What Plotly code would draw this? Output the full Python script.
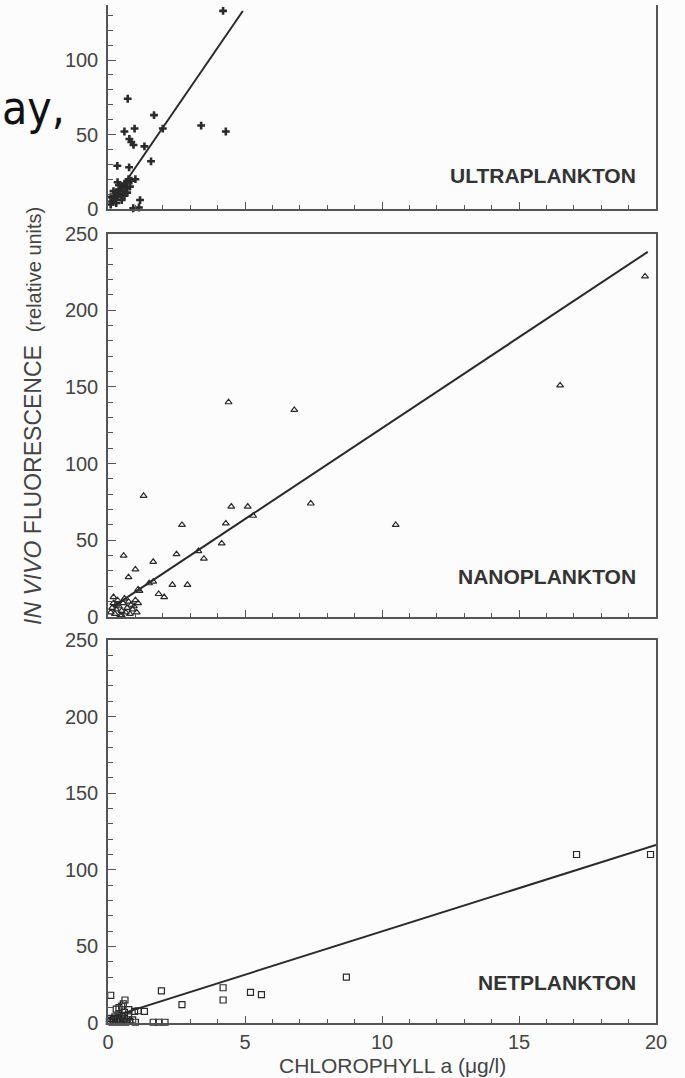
import plotly.graph_objects as go

# ---------------- data ----------------
# ULTRAPLANKTON (chlorophyll a, fluorescence)
ultra_x = [4.2, 0.72, 1.68, 0.97, 0.6, 3.4, 4.3, 2.0, 0.78, 0.85, 0.93, 1.33, 1.57,
           0.34, 0.77, 1.0, 1.17, 1.13, 0.92,
           0.1, 0.15, 0.2, 0.25, 0.3, 0.35, 0.4, 0.45, 0.5, 0.55, 0.6, 0.65, 0.7,
           0.3, 0.5, 0.2, 0.4, 0.75, 0.85, 0.6, 0.1, 0.35, 0.8, 0.7]
ultra_y = [133, 74, 63, 54, 52, 56, 52, 54, 47, 45, 43, 42, 32,
           29, 28, 20, 6, 1, 0.5,
           3, 5, 7, 9, 11, 8, 13, 10, 15, 12, 17, 14, 18,
           4, 6, 12, 16, 20, 19, 9, 8, 18, 15, 11]

# NANOPLANKTON
nano_x = [19.6, 16.5, 4.4, 6.8, 1.3, 4.5, 5.1, 7.4, 10.5, 2.7, 4.3, 4.15, 5.3,
          3.5, 2.5, 3.3, 0.57, 1.65, 1.0, 0.75, 1.65, 1.5, 1.85, 2.05, 2.35, 2.9,
          1.15, 1.1,
          0.1, 0.15, 0.2, 0.25, 0.3, 0.35, 0.4, 0.45, 0.5, 0.55, 0.6, 0.65, 0.7,
          0.75, 0.8, 0.85, 0.9, 1.0, 1.05, 0.2, 0.5, 0.3, 0.95, 1.1]
nano_y = [222, 151, 140, 135, 79, 72, 72, 74, 60, 60, 61, 48, 66,
          38, 41, 43, 40, 36, 31, 26, 23, 22, 15, 13, 21, 21,
          17, 18,
          3, 6, 9, 2, 5, 11, 7, 1, 4, 9, 12, 3, 6,
          10, 2, 8, 5, 11, 3, 13, 1, 8, 7, 9]

# NETPLANKTON
net_x = [17.1, 19.8, 8.7, 5.2, 5.6, 4.2, 4.2, 1.95, 2.7, 0.1, 0.62, 0.4, 0.76,
         0.97, 1.33, 1.65, 1.85, 2.08, 0.56, 1.1,
         0.05, 0.1, 0.15, 0.2, 0.25, 0.3, 0.35, 0.4, 0.45, 0.5, 0.55, 0.6, 0.65,
         0.7, 0.75, 0.8, 0.9, 1.0, 0.4, 0.6, 0.3, 0.5]
net_y = [110, 110, 30, 20, 18.5, 15, 23, 21, 12, 18, 15, 10, 8.7,
         7.6, 7.6, 0.5, 0.5, 0.5, 12.5, 8,
         1, 3, 0.5, 2, 4, 1, 3, 0.5, 2, 5, 1, 3, 0.5,
         2, 4, 1, 2, 0.5, 6, 7, 9, 11]

# fitted regression lines: [intercept, slope] and x extent
ultra_fit = [1.0, 26.8]
ultra_fit_x = [0.05, 4.92]
nano_fit = [4.6, 11.85]
nano_fit_x = [0.2, 19.7]
net_fit = [3.3, 5.65]
net_fit_x = [0.0, 20.0]

x_ticks = [0, 5, 10, 15, 20]
y_ticks = [0, 50, 100, 150, 200, 250]

# ---------------- layout geometry ----------------
W, H = 685, 1078
ML, MR, MT, MB = 108, 29, 0, 55
PW = W - ML - MR
PH = H - MT - MB


def py(p):  # pixel row -> paper y
    return (H - MB - p) / PH


def px(p):  # pixel column -> paper x
    return (p - ML) / PW


INK = "#2a2a2a"
AXC = "#555555"
FONT = "Liberation Sans, Arial, Helvetica, sans-serif"

fig = go.Figure()


def fit_y(fit, xs):
    return [fit[0] + fit[1] * v for v in xs]


panels = [
    ("x", "y", net_x, net_y, net_fit, net_fit_x, "square-open"),
    ("x2", "y2", nano_x, nano_y, nano_fit, nano_fit_x, "triangle-up-open"),
    ("x3", "y3", ultra_x, ultra_y, ultra_fit, ultra_fit_x, "cross"),
]
for xa, ya, xs, ys, fit, fx, sym in panels:
    fig.add_trace(go.Scatter(
        x=fx, y=fit_y(fit, fx), mode="lines", xaxis=xa, yaxis=ya,
        line=dict(color=INK, width=2), showlegend=False, hoverinfo="skip"))
    if sym == "cross":
        mk = dict(symbol=sym, size=6.5, color=INK, line=dict(width=0))
    else:
        mk = dict(symbol=sym, size=6, color=INK, line=dict(width=1.2, color=INK))
    fig.add_trace(go.Scatter(
        x=xs, y=ys, mode="markers", xaxis=xa, yaxis=ya, marker=mk,
        showlegend=False, cliponaxis=False))

tickfont = dict(family=FONT, size=20, color="#444444")


def xaxis(anchor, labels, top_line=True):
    return dict(
        anchor=anchor, domain=[0, 1], range=[0, 20], automargin=False,
        showgrid=False, zeroline=False,
        showline=True, linecolor=AXC, linewidth=1.5,
        mirror=top_line,
        ticks="inside", ticklen=7, tickwidth=1.2, tickcolor=AXC,
        tickvals=x_ticks, ticktext=[str(v) for v in x_ticks],
        showticklabels=labels, tickfont=tickfont,
        minor=dict(dtick=1, ticks="inside", ticklen=4, tickwidth=1.2, tickcolor=AXC),
    )


def yaxis(anchor, dom, rng):
    return dict(
        anchor=anchor, domain=dom, range=rng, automargin=False,
        showgrid=False, zeroline=False,
        showline=True, linecolor=AXC, linewidth=1.5, mirror=True,
        ticks="inside", ticklen=8, tickwidth=1.2, tickcolor=AXC,
        tickvals=y_ticks, ticktext=[str(v) for v in y_ticks],
        tickfont=tickfont, ticklabelstandoff=4,
        minor=dict(dtick=10, ticks="inside", ticklen=5, tickwidth=1.2, tickcolor=AXC),
    )


fig.update_layout(
    width=W, height=H,
    margin=dict(l=ML, r=MR, t=MT, b=MB, pad=0, autoexpand=False),
    paper_bgcolor="#fcfcfc", plot_bgcolor="#fcfcfc",
    xaxis=xaxis("y", True),
    yaxis=yaxis("x", [0, py(640)], [0, 250]),
    xaxis2=xaxis("y2", False),
    yaxis2=yaxis("x2", [py(617), py(233.5)], [0, 250]),
    xaxis3=xaxis("y3", False, top_line=False),
    yaxis3=yaxis("x3", [py(209), py(5)], [0, (209 - 5) / 1.49]),
)

labfont = dict(family=FONT, size=21, color="#333333")
anns = [
    dict(text="<b>NETPLANKTON</b>", x=px(638), y=py(982)),
    dict(text="<b>NANOPLANKTON</b>", x=px(638), y=py(577)),
    dict(text="<b>ULTRAPLANKTON</b>", x=px(638), y=py(176)),
]
for a in anns:
    fig.add_annotation(xref="paper", yref="paper", xanchor="right", yanchor="middle",
                       showarrow=False, font=labfont, **a)

# axis titles
fig.add_annotation(
    xref="paper", yref="paper", x=px(392), y=py(1065), xanchor="center", yanchor="middle",
    showarrow=False, text="CHLOROPHYLL a (μg/l)",
    font=dict(family=FONT, size=21, color="#444444"))
fig.add_annotation(
    xref="paper", yref="paper", x=px(33), y=py(416), xanchor="center", yanchor="middle",
    showarrow=False, textangle=-90,
    text="<i>IN VIVO</i> FLUORESCENCE  <span style='font-size:20px'>(relative units)</span>",
    font=dict(family=FONT, size=23, color="#444444"))

# fragment of slide text overlapping the figure
fig.add_annotation(
    xref="paper", yref="paper", x=px(67), y=py(108), xanchor="right", yanchor="middle",
    showarrow=False, text="ay,",
    font=dict(family="Liberation Sans Narrow, DejaVu Sans Condensed, Liberation Sans, sans-serif",
              size=46, color="#111111"))

fig.write_html("out.html")
